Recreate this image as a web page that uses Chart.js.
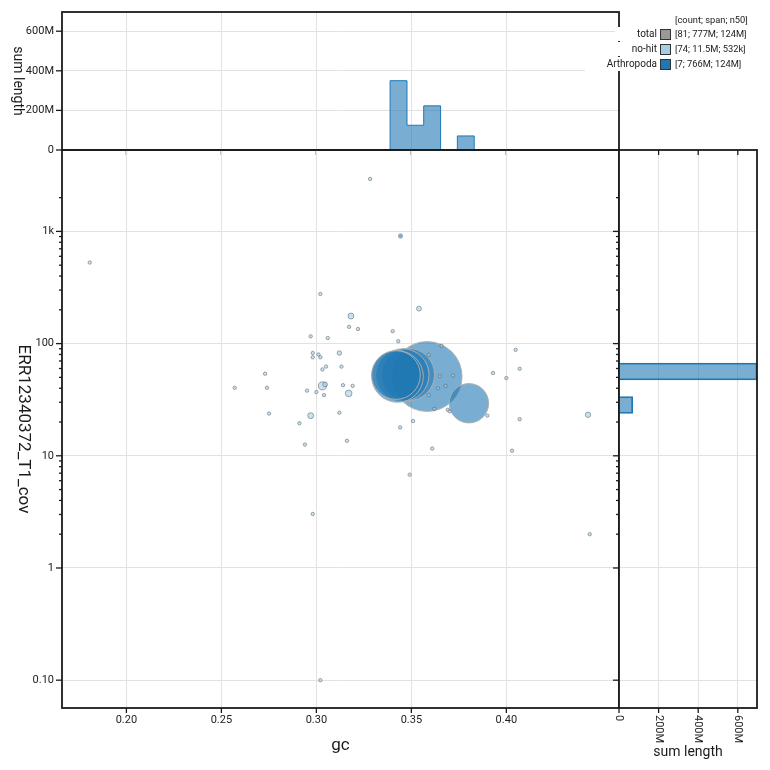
<!DOCTYPE html>
<html><head><meta charset="utf-8">
<script src="https://cdn.jsdelivr.net/npm/chart.js@4.4.1/dist/chart.umd.min.js"></script>
<style>
html,body{margin:0;padding:0;background:#fff;}
#wrap{position:relative;width:770px;height:770px;overflow:hidden;background:#fff;font-family:Roboto,sans-serif;}
canvas{position:absolute;}
.lgname{position:absolute;background:#fff;color:#222;font-size:10px;white-space:nowrap;text-align:right;height:14px;line-height:14px;padding-left:22px;}
.lgstat{position:absolute;background:#fff;color:#222;font-size:9.3px;white-space:nowrap;height:14px;line-height:14px;left:657px;right:0;}
.lgsq{position:absolute;left:3px;top:2px;width:9px;height:9px;border:1px solid #333;}
.lgtxt{position:absolute;left:18px;top:0;}
</style></head><body>
<div id="wrap">
<canvas id="top" width="625" height="174" style="left:0;top:-4px"></canvas>
<canvas id="main" width="625" height="640" style="left:0;top:130px"></canvas>
<canvas id="side" width="170" height="625" style="left:600px;top:145px"></canvas>
<div id="legend"></div>
</div>
<script>
// ---------------- data ----------------
const xTitle = 'gc';
const yTitle = 'ERR12340372_T1_cov';
const histTitle = 'sum length';

const gcTicks = [0.20, 0.25, 0.30, 0.35, 0.40];
const gcTickLabels = ['0.20', '0.25', '0.30', '0.35', '0.40'];
const covMajorTicks = [0.1, 1, 10, 100, 1000];
const covMajorLabels = ['0.10', '1', '10', '100', '1k'];
const covMinorTicks = [2,3,4,5,6,7,8,9,20,30,40,50,60,70,80,90,200,300,400,500,600,700,800,900,2000];
const lenTicks = [0, 200, 400, 600];            // Mb
const lenTickLabels = ['0', '200M', '400M', '600M'];

const gcMin = 0.1661, gcMax = 0.4593;
const covMin = 0.0565, covMax = 5316;
const lenMax = 697;

// no-hit contigs: gc, coverage, length (Mb)
const noHitGc  = [0.1807,0.3021,0.3182,0.3172,0.3219,0.2970,0.3060,0.2981,0.2981,0.3011,0.3021,0.3121,0.3051,0.3032,0.3132,0.2730,0.2570,0.2740,0.3032,0.3046,0.3140,0.3191,0.2951,0.3000,0.3040,0.3170,0.2751,0.2970,0.3121,0.2911,0.2940,0.3161,0.2981,0.3021,0.3283,0.3540,0.4049,0.4070,0.3930,0.4000,0.3659,0.3591,0.3650,0.3720,0.3680,0.3640,0.3591,0.3621,0.3692,0.3701,0.3900,0.4070,0.4430,0.3509,0.3441,0.3610,0.4030,0.3491,0.4439,0.3402,0.3431];
const noHitCov = [528,277,176,141,135,116,112,82.4,75.5,80,75.5,82.4,62.4,58.9,62.4,53.9,40.4,40.4,42,43.3,42.6,42,38.1,37,34.7,36,23.8,22.8,24.2,19.5,12.6,13.6,3.03,0.1,2930,205,88,59.7,54.7,49.3,95.5,79.4,51.2,51.9,42,39.9,34.7,26.2,25.7,24.9,22.8,21.2,23.2,20.4,17.9,11.6,11.1,6.79,2.0,129,105];
const noHitLen = [0.1,0.1,1.6,0.2,0.2,0.2,0.2,0.2,0.2,0.2,0.2,0.9,0.2,0.2,0.2,0.2,0.1,0.2,2.9,1.0,0.2,0.2,0.2,0.2,0.2,2.0,0.1,1.6,0.2,0.1,0.1,0.1,0.1,0.1,0.1,1.1,0.1,0.1,0.2,0.2,0.2,0.2,0.2,0.2,0.2,0.2,0.2,0.2,0.2,0.2,0.2,0.1,1.3,0.1,0.1,0.1,0.1,0.1,0.1,0.2,0.2];

// Arthropoda contigs (largest first)
const arthGc  = [0.3583, 0.3484, 0.3455, 0.3427, 0.3419, 0.3803, 0.3443];
const arthCov = [50.9, 53.0, 52.5, 50.9, 52.5, 29.4, 910];
const arthLen = [220, 124, 124, 120, 107, 70, 0.9];

// histograms (Mb per bin)
const topBinEdges = [0.3388, 0.3477, 0.3565, 0.3654, 0.3742, 0.3831];
const topBinSums  = [350, 125, 223, 0, 71];
const sideBinEdges = [23.9, 33.7, 47.5, 67.1];
const sideBinSums  = [69, 0, 697];

// legend
const legendHeader = '[count; span; n50]';
const legendNames  = ['total', 'no-hit', 'Arthropoda'];
const legendStats  = ['[81; 777M; 124M]', '[74; 11.5M; 532k]', '[7; 766M; 124M]'];
const legendColors = ['#999999', '#a6cee3', '#1f78b4'];

// ---------------- style ----------------
const INK = '#1b1b1b', GRID = '#e2e2e2', LABEL = '#222';
const ARTH_FILL = 'rgba(31,120,180,0.6)', ARTH_LINE = '#1f78b4';
Chart.defaults.font.family = 'Roboto';
Chart.defaults.color = LABEL;
const radius = L => Math.max(1.7, 2.355 * Math.sqrt(L));
const common = {responsive:false, animation:false, devicePixelRatio:1,
  plugins:{legend:{display:false}, tooltip:{enabled:false}}};

function ln(c, x1, y1, x2, y2){ c.beginPath(); c.moveTo(x1,y1); c.lineTo(x2,y2); c.stroke(); }
function frame(c, a){ c.lineWidth = 1.8; c.strokeStyle = INK; c.strokeRect(a.left, a.top, a.right-a.left, a.bottom-a.top); }
function setTicks(vals){ return s => { s.ticks = vals.map(v => ({value:v})); }; }

// ---------------- main scatter ----------------
new Chart(document.getElementById('main'), {
  type: 'bubble',
  data: { datasets: [
    { label:'no-hit', data: noHitGc.map((g,i)=>({x:g, y:noHitCov[i], r:radius(noHitLen[i])})),
      backgroundColor:'rgba(166,206,227,0.6)', borderColor:'rgba(80,92,104,0.65)', borderWidth:0.8 },
    { label:'Arthropoda', data: arthGc.map((g,i)=>({x:g, y:arthCov[i], r:radius(arthLen[i])})),
      backgroundColor:ARTH_FILL, borderColor:'rgba(175,175,175,0.95)', borderWidth:1 }
  ]},
  options: Object.assign({}, common, {
    layout:{autoPadding:false, padding:{top:20, right:6, left:0, bottom:0}},
    scales:{
      x:{type:'linear', min:gcMin, max:gcMax, bounds:'data',
         afterBuildTicks:setTicks(gcTicks), afterFit:s=>{s.height=62;},
         ticks:{callback:(v,i)=>gcTickLabels[i], font:{size:11}, padding:6, maxRotation:0, autoSkip:false},
         grid:{color:GRID, drawTicks:false}, border:{display:false}},
      y:{type:'logarithmic', min:covMin, max:covMax, bounds:'data',
         afterBuildTicks:setTicks(covMajorTicks), afterFit:s=>{s.width=62;},
         ticks:{callback:(v,i)=>covMajorLabels[i], font:{size:11}, padding:8, autoSkip:false},
         grid:{color:GRID, drawTicks:false}, border:{display:false}}
    }
  }),
  plugins:[{id:'mainDeco', afterDraw(chart){
    const c=chart.ctx, a=chart.chartArea, sx=chart.scales.x, sy=chart.scales.y;
    c.save(); c.strokeStyle=INK; c.lineWidth=1.3;
    gcTicks.forEach(v=>{const x=sx.getPixelForValue(v); ln(c,x,a.bottom,x,a.bottom+5);});
    covMajorTicks.forEach(v=>{const y=sy.getPixelForValue(v); ln(c,a.left-6,y,a.left,y);});
    covMinorTicks.forEach(v=>{const y=sy.getPixelForValue(v); ln(c,a.left-3,y,a.left,y);});
    frame(c,a);
    c.fillStyle=INK; c.font='17px Roboto'; c.textAlign='center'; c.textBaseline='middle';
    c.fillText(xTitle,(a.left+a.right)/2,a.bottom+38);
    c.translate(23,(a.top+a.bottom)/2); c.rotate(Math.PI/2); c.fillText(yTitle,0,0);
    c.restore();
  }}]
});

// ---------------- top histogram (step outline) ----------------
const topPts = [{x:topBinEdges[0], y:0}]
  .concat(topBinSums.map((v,i)=>({x:topBinEdges[i], y:v})))
  .concat([{x:topBinEdges[topBinEdges.length-1], y:0}]);
new Chart(document.getElementById('top'), {
  type:'line',
  data:{datasets:[{label:'Arthropoda', data:topPts, stepped:'before', fill:'origin',
    backgroundColor:ARTH_FILL, borderColor:ARTH_LINE, borderWidth:1, pointRadius:0, tension:0}]},
  options: Object.assign({}, common, {
    layout:{autoPadding:false, padding:{top:16, right:6, left:0, bottom:0}},
    scales:{
      x:{type:'linear', min:gcMin, max:gcMax, bounds:'data', offset:false,
         afterBuildTicks:setTicks(gcTicks), afterFit:s=>{s.height=20;},
         ticks:{display:false}, grid:{color:GRID, drawTicks:false}, border:{display:false}},
      y:{type:'linear', min:0, max:lenMax, bounds:'data',
         afterBuildTicks:setTicks(lenTicks), afterFit:s=>{s.width=62;},
         ticks:{callback:(v,i)=>lenTickLabels[i], font:{size:11}, padding:8, autoSkip:false},
         grid:{color:GRID, drawTicks:false}, border:{display:false}}
    }
  }),
  plugins:[{id:'topDeco', afterDraw(chart){
    const c=chart.ctx, a=chart.chartArea, sx=chart.scales.x, sy=chart.scales.y;
    c.save(); c.strokeStyle=INK; c.lineWidth=1.3;
    gcTicks.forEach(v=>{const x=sx.getPixelForValue(v); ln(c,x,a.bottom,x,a.bottom+5);});
    lenTicks.forEach(v=>{const y=sy.getPixelForValue(v); ln(c,a.left-6,y,a.left,y);});
    frame(c,a);
    c.fillStyle=INK; c.font='14px Roboto'; c.textAlign='center'; c.textBaseline='middle';
    c.translate(17,(a.top+a.bottom)/2); c.rotate(Math.PI/2); c.fillText(histTitle,0,0);
    c.restore();
  }}]
});

// ---------------- right histogram ----------------
new Chart(document.getElementById('side'), {
  type:'bar',
  data:{datasets:[{label:'Arthropoda',
    data: sideBinSums.map((v,i)=>({y:Math.sqrt(sideBinEdges[i]*sideBinEdges[i+1]), x:v})),
    backgroundColor:ARTH_FILL, borderColor:ARTH_LINE, borderWidth:1,
    barPercentage:1, categoryPercentage:1}]},
  options: Object.assign({}, common, {
    indexAxis:'y',
    layout:{autoPadding:false, padding:{top:5, right:13, left:0, bottom:0}},
    scales:{
      y:{type:'logarithmic', min:covMin, max:covMax, bounds:'data', offset:false,
         afterBuildTicks:setTicks(covMajorTicks), afterFit:s=>{s.width=19;},
         ticks:{display:false}, grid:{color:GRID, drawTicks:false, offset:false}, border:{display:false}},
      x:{type:'linear', min:0, max:lenMax, bounds:'data',
         afterBuildTicks:setTicks(lenTicks), afterFit:s=>{s.height=62;},
         ticks:{display:false}, grid:{color:GRID, drawTicks:false}, border:{display:false}}
    }
  }),
  plugins:[{id:'sideDeco', afterDraw(chart){
    const c=chart.ctx, a=chart.chartArea, sx=chart.scales.x, sy=chart.scales.y;
    c.save(); c.strokeStyle=INK; c.lineWidth=1.3;
    covMajorTicks.forEach(v=>{const y=sy.getPixelForValue(v); ln(c,a.left-6,y,a.left,y);});
    covMinorTicks.forEach(v=>{const y=sy.getPixelForValue(v); ln(c,a.left-3,y,a.left,y);});
    lenTicks.forEach(v=>{const x=sx.getPixelForValue(v); ln(c,x,a.bottom,x,a.bottom+5); if(v>0) ln(c,x,a.top,x,a.top+5);});
    frame(c,a);
    c.fillStyle=LABEL; c.font='11px Roboto'; c.textAlign='left'; c.textBaseline='middle';
    lenTicks.forEach((v,i)=>{const x=sx.getPixelForValue(v);
      c.save(); c.translate(x,a.bottom+7); c.rotate(Math.PI/2); c.fillText(lenTickLabels[i],0,0); c.restore();});
    c.fillStyle=INK; c.font='14px Roboto'; c.textAlign='center';
    c.fillText(histTitle,(a.left+a.right)/2,a.bottom+44);
    c.restore();
  }}]
});

// ---------------- legend ----------------
(function(){
  const lg = document.getElementById('legend');
  const h = document.createElement('div');
  h.className='lgstat'; h.style.top='13px'; h.innerHTML='<span class="lgtxt">'+legendHeader+'</span>';
  lg.appendChild(h);
  const rowY = [27, 42, 56.5];
  legendNames.forEach((n,i)=>{
    const d=document.createElement('div'); d.className='lgname';
    d.style.top=rowY[i]+'px'; d.style.right=(770-657)+'px'; d.textContent=n; lg.appendChild(d);
    const s=document.createElement('div'); s.className='lgstat'; s.style.top=rowY[i]+'px';
    s.innerHTML='<span class="lgsq" style="background:'+legendColors[i]+'"></span><span class="lgtxt">'+legendStats[i]+'</span>';
    lg.appendChild(s);
  });
})();
</script>
</body></html>
